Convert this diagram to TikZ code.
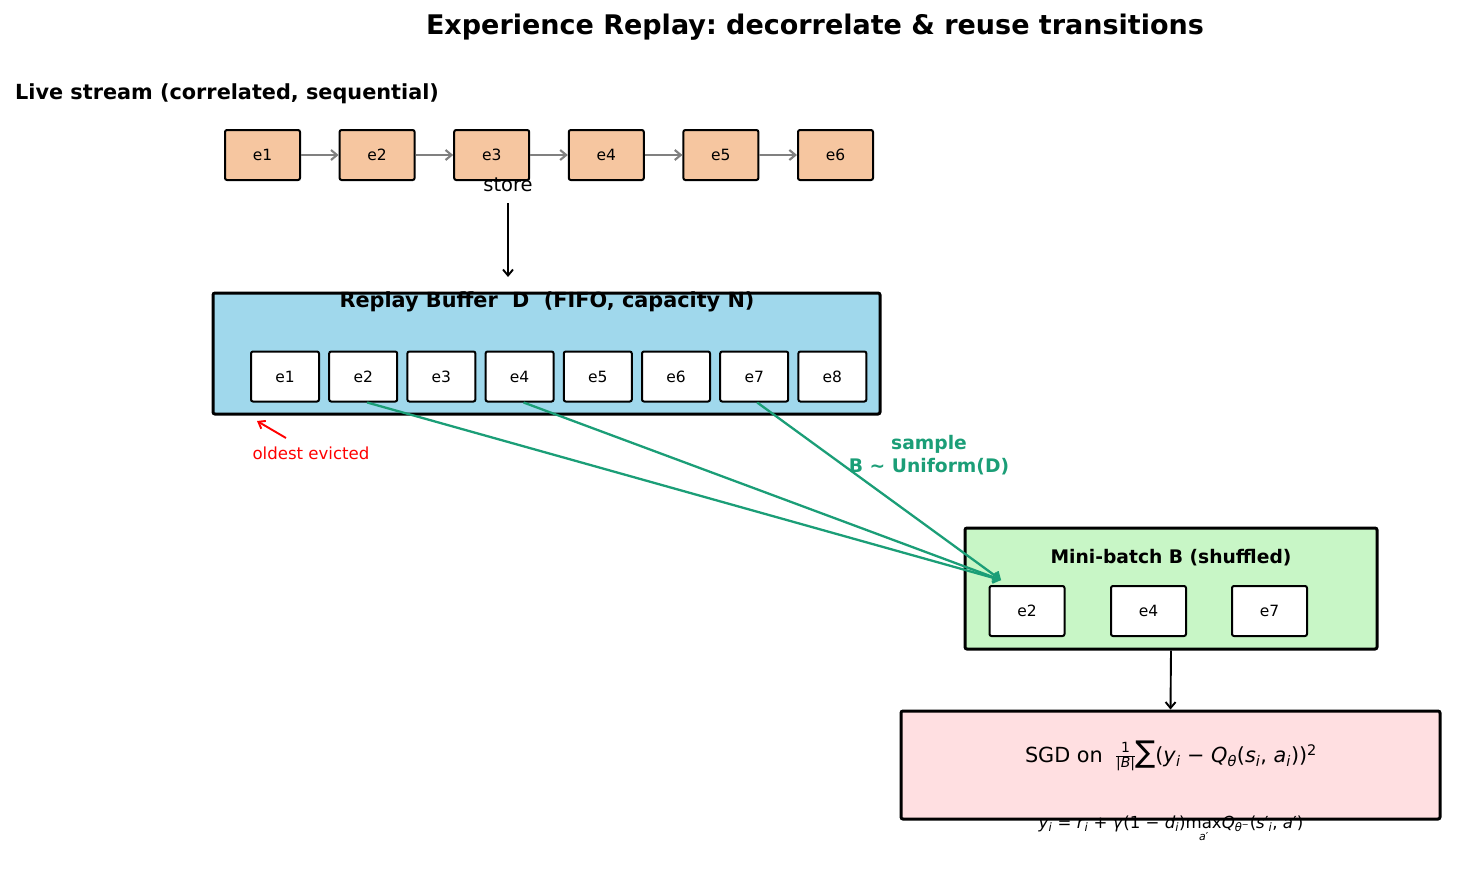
\documentclass[tikz,border=0pt]{standalone}
\usepackage{fontspec}
\setmainfont{DejaVu Sans}
\usetikzlibrary{arrows.meta,calc}
\frenchspacing
\definecolor{peach}{HTML}{F6C6A0}
\definecolor{bufblue}{HTML}{A0D8EC}
\definecolor{mbgreen}{HTML}{C8F6C6}
\definecolor{sgdpink}{HTML}{FFDFE1}
\definecolor{samp}{HTML}{1B9E77}
\newcommand{\vv}[1]{\textit{#1}}
\newcommand{\sbi}{\textsubscript{\vv{i}}}
\tikzset{
  livebox/.style={draw=black, fill=peach, line width=2pt, rounded corners=2pt, minimum width=75pt, minimum height=50pt, inner sep=0pt, font=\fontsize{15.5}{17}\selectfont},
  cell/.style={draw=black, fill=white, line width=2pt, rounded corners=2pt, minimum width=68pt, minimum height=50pt, inner sep=0pt, font=\fontsize{15.5}{17}\selectfont},
  mcell/.style={cell, minimum width=75pt},
  bigbox/.style={draw=black, line width=3pt, rounded corners=2pt, inner sep=0pt},
  barb/.style={-{Straight Barb[length=6pt,width=10pt]}, line width=1.9pt},
  hdr/.style={font=\bfseries\fontsize{18.7}{22}\selectfont, inner sep=0pt},
}
\begin{document}
\begin{tikzpicture}[x=1pt,y=-1pt]
\useasboundingbox (0,0) rectangle (1478,884);
% title
\node[font=\bfseries\fontsize{27}{30}\selectfont, inner sep=0pt] (title) at (815,27) {Experience Replay: decorrelate \& reuse transitions};
\node[font=\bfseries\fontsize{20.8}{24}\selectfont, anchor=west, inner sep=0pt] (live) at (15,94) {Live stream (correlated, sequential)};
% live stream
\foreach \i/\x in {1/262.5,2/377.1,3/491.7,4/606.3,5/720.9,6/835.5}{
  \node[livebox] (s\i) at (\x,155) {e\i};
}
\foreach \a/\b in {1/2,2/3,3/4,4/5,5/6}{
  \draw[barb, gray, line width=2.1pt] (s\a.east) -- (s\b.west);
}
% store
\node[font=\fontsize{19.5}{22}\selectfont, inner sep=0pt] (store) at (508,185) {store};
\coordinate (st0) at (508,203);
\coordinate (st1) at (508,277);
\draw[barb] (st0) -- (st1);
% replay buffer
\node[bigbox, fill=bufblue, minimum width=667pt, minimum height=121pt] (buf) at (546.5,353.5) {};
\node[font=\bfseries\fontsize{20.8}{24}\selectfont, inner sep=0pt] (buftitle) at (547,302) {Replay Buffer\ \ D\ \ (FIFO, capacity N)};
\foreach \i/\x in {1/285,2/363.2,3/441.4,4/519.6,5/597.8,6/676,7/754.2,8/832.4}{
  \node[cell] (b\i) at (\x,376.5) {e\i};
}
% eviction
\coordinate (ev0) at (286,438);
\coordinate (ev1) at (257,421);
\draw[-{Straight Barb[length=6pt,width=9pt]}, red, line width=1.9pt] (ev0) -- (ev1);
\node[text=red, font=\fontsize{16.6}{18}\selectfont, inner sep=0pt] (evict) at (311,453) {oldest evicted};
% mini-batch
\node[bigbox, fill=mbgreen, minimum width=412pt, minimum height=121pt] (mb) at (1171,588.5) {};
\node[hdr] (mbtitle) at (1171,558) {Mini-batch B (shuffled)};
\node[mcell] (m2) at (1027,611) {e2};
\node[mcell] (m4) at (1148.5,611) {e4};
\node[mcell] (m7) at (1269.5,611) {e7};
% sample arrows
\coordinate (tgt) at (1001,580);
\draw[barb, samp, line width=2.3pt] ($(b2.south)+(4,0)$) -- (tgt);
\draw[barb, samp, line width=2.3pt] ($(b4.south)+(4,0)$) -- (tgt);
\draw[barb, samp, line width=2.3pt] ($(b7.south)+(3,0)$) -- (tgt);
\node[text=samp, font=\bfseries\fontsize{18.7}{23}\selectfont, align=center, inner sep=0pt] (samplbl) at (929,455) {sample\\B \textasciitilde{} Uniform(D)};
% SGD
\node[bigbox, fill=sgdpink, minimum width=539pt, minimum height=108pt] (sgd) at (1170.5,765) {};
\draw[barb] (mb.south) -- (sgd.north);
\node[font=\fontsize{20.8}{24}\selectfont, inner sep=0pt] (loss) at (1171,756) {SGD on\ \ \raisebox{0.25ex}{\fontsize{14}{14}\selectfont\renewcommand{\arraystretch}{0.85}\setlength{\tabcolsep}{0pt}\begin{tabular}[c]{c}1\\\hline\vv{|B|}\end{tabular}}{\fontsize{30}{30}\selectfont ∑}(\vv{y}\sbi\ − \vv{Q}\textsubscript{\vv{θ}}(\vv{s}\sbi, \vv{a}\sbi))\textsuperscript{2}};
\node[font=\fontsize{16.6}{19}\selectfont, inner sep=0pt] (target) at (1171,830) {\vv{y}\sbi\ = \vv{r}\sbi\ + \vv{γ}(1 − \vv{d}\sbi)\setlength{\tabcolsep}{0pt}\renewcommand{\arraystretch}{0.6}\begin{tabular}[t]{c}max\\{\fontsize{11}{11}\selectfont\vv{a}′}\end{tabular}\vv{Q}\textsubscript{\vv{θ}\textsuperscript{−}}(\vv{s}′\sbi, \vv{a}′)};
\end{tikzpicture}
\end{document}
